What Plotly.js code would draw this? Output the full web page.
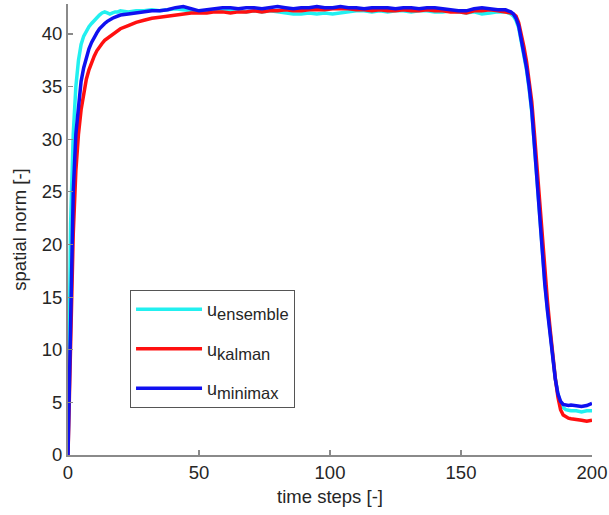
<!DOCTYPE html>
<html>
<head>
<meta charset="utf-8">
<script src="https://cdn.plot.ly/plotly-3.0.1.min.js"></script>
<style>
  html, body { margin: 0; padding: 0; background: #fff; }
  #chart { width: 609px; height: 515px; }
</style>
</head>
<body>
<div id="chart"></div>
<script>
// time steps (x values)
const timeSteps = [
  0,1,2,3,4,5,6,7,8,9,10,11,12,13,14,15,16,17,18,19,20,
  23,26,29,32,35,38,41,44,47,50,53,56,59,62,65,68,71,74,77,80,83,86,89,92,95,98,101,104,107,110,113,116,119,122,125,128,131,134,137,140,143,146,149,152,155,158,161,164,167,
  168,169,170,171,172,173,174,175,176,177,178,179,180,181,182,183,184,185,186,187,188,189,190,191,192,194,196,198,200
];

const uEnsemble = [
  0,22,30.5,35,37.5,39,39.8,40.3,40.7,41.0,41.3,41.6,41.8,42.0,42.1,42.0,41.9,42.0,42.1,42.1,42.2,
  42.1,42.2,42.2,42.3,42.2,42.3,42.4,42.3,42.2,42.2,42.2,42.3,42.2,42.2,42.2,42.1,42.2,42.1,42.2,42.1,42.0,41.9,41.9,42.0,41.9,42.0,41.9,42.0,42.1,42.2,42.2,42.1,42.2,42.1,42.2,42.2,42.1,42.2,42.2,42.1,42.1,42.2,42.1,42.0,42.1,41.9,42.0,42.1,42.1,
  42.0,41.9,41.7,41.3,40.6,39.4,38.1,36.6,34.8,32.6,29.5,26.0,22.6,19.2,16.4,13.9,11.5,9.2,7.3,5.8,4.9,4.5,4.3,4.25,4.2,4.2,4.1,4.2,4.2
];

const uKalman = [
  0,11,21,27,30.5,32.8,34.5,35.7,36.6,37.3,37.9,38.4,38.8,39.1,39.4,39.6,39.8,40.0,40.2,40.3,40.5,
  40.8,41.1,41.3,41.5,41.6,41.7,41.8,41.9,42.0,42.0,42.0,42.1,42.1,42.0,42.1,42.1,42.2,42.1,42.2,42.2,42.3,42.2,42.2,42.3,42.3,42.3,42.4,42.4,42.4,42.3,42.3,42.2,42.3,42.2,42.2,42.3,42.2,42.2,42.3,42.2,42.2,42.1,42.1,42.0,42.2,42.2,42.3,42.2,42.1,
  42.1,42.0,41.9,41.7,41.1,40.1,38.8,37.4,35.7,33.6,30.6,27.3,23.8,20.3,17.3,14.6,12.0,9.5,7.3,5.5,4.3,3.8,3.6,3.5,3.45,3.4,3.3,3.2,3.3
];

const uMinimax = [
  0,14,25,30.5,33.5,35.5,36.8,37.8,38.6,39.2,39.7,40.1,40.5,40.8,41.0,41.2,41.4,41.5,41.6,41.7,41.8,
  41.9,42.0,42.1,42.2,42.2,42.3,42.5,42.6,42.4,42.2,42.3,42.4,42.5,42.5,42.4,42.5,42.5,42.4,42.5,42.6,42.5,42.4,42.5,42.5,42.6,42.5,42.5,42.6,42.5,42.5,42.4,42.5,42.5,42.5,42.4,42.5,42.5,42.4,42.5,42.5,42.4,42.3,42.2,42.2,42.4,42.5,42.4,42.3,42.3,
  42.2,42.1,41.9,41.5,40.8,39.6,38.3,36.8,35.0,32.8,29.5,26.0,22.5,19.0,16.2,13.7,11.3,9.0,7.2,5.8,5.1,4.8,4.75,4.7,4.75,4.7,4.6,4.7,4.9
];

const seriesBase = 'u';
const seriesSubs = ['ensemble', 'kalman', 'minimax'];
const xTicks = [0, 50, 100, 150, 200];
const yTicks = [0, 5, 10, 15, 20, 25, 30, 35, 40];

const colors = ['#22f0f0', '#ff1010', '#1010f0'];
const seriesValues = [uEnsemble, uKalman, uMinimax];

const traces = seriesValues.map((vals, i) => ({
  x: timeSteps,
  y: vals,
  type: 'scatter',
  mode: 'lines',
  name: seriesBase + '<sub><span style="font-size:16.5px">' + seriesSubs[i] + '</span></sub>',
  legendgroup: 'g' + i,
  line: { color: colors[i], width: 3.5 }
}));

const fam = '"Liberation Sans", Arial, Helvetica, sans-serif';
const txt = '#262626';
const f = (s) => ({ family: fam, color: txt, size: s });

const layout = {
  width: 609,
  height: 515,
  margin: { l: 68, r: 17, t: 4, b: 60 },
  paper_bgcolor: '#ffffff',
  plot_bgcolor: '#ffffff',
  font: f(18),
  showlegend: true,
  legend: {
    x: 0.118, y: 0.366, xanchor: 'left', yanchor: 'top',
    bordercolor: '#555555', borderwidth: 1.2,
    bgcolor: '#ffffff',
    font: f(18),
    tracegroupgap: 13,
    itemwidth: 66,
    entrywidth: 170,
    entrywidthmode: 'pixels'
  },
  xaxis: {
    range: [0, 200],
    tickvals: xTicks,
    ticktext: xTicks.map(String),
    ticks: 'inside', ticklen: 5, tickwidth: 1.2, tickcolor: '#8a8a8a',
    showline: true, linecolor: '#8a8a8a', linewidth: 2,
    showgrid: false, zeroline: false,
    tickfont: f(18.5),
    title: { text: 'time steps [-]', font: f(18.5), standoff: 8 }
  },
  yaxis: {
    range: [0, 42.85],
    tickvals: yTicks,
    ticktext: yTicks.map(String),
    ticks: 'inside', ticklen: 5, tickwidth: 1.2, tickcolor: '#8a8a8a',
    showline: true, linecolor: '#8a8a8a', linewidth: 2,
    showgrid: false, zeroline: false,
    tickfont: f(18.5),
    title: { text: 'spatial norm [-]', font: f(18.5), standoff: 10 }
  }
};

Plotly.newPlot('chart', traces, layout, { staticPlot: true, displayModeBar: false });
</script>
</body>
</html>
